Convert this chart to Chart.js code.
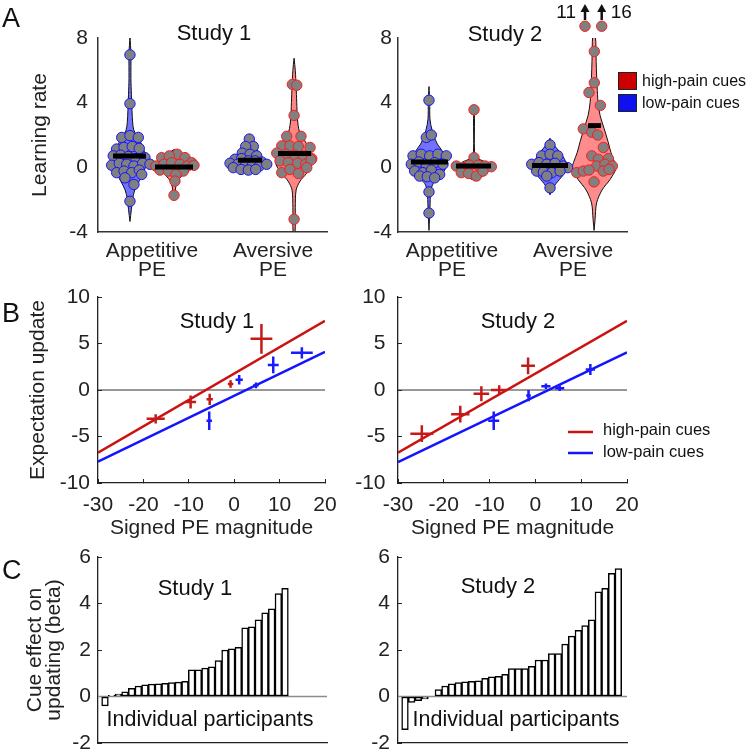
<!DOCTYPE html>
<html>
<head>
<meta charset="utf-8">
<script src="https://cdn.jsdelivr.net/npm/chart.js@4.4.1/dist/chart.umd.min.js"></script>
<style>
body { margin: 0; background: #fff; }
#fig { position: relative; width: 750px; height: 752px; overflow: hidden; font-family: 'Liberation Sans', Arial, sans-serif; }
#fig canvas { position: absolute; }
.tag { position: absolute; font-size: 27px; line-height: 27px; color: #111; }
</style>
</head>
<body>
<div id="fig">
  <canvas id="a1" width="375" height="280" style="left:0px;top:0px"></canvas>
  <canvas id="a2" width="400" height="280" style="left:350px;top:0px"></canvas>
  <canvas id="b1" width="375" height="300" style="left:0px;top:250px"></canvas>
  <canvas id="b2" width="400" height="300" style="left:350px;top:250px"></canvas>
  <canvas id="c1" width="375" height="290" style="left:0px;top:510px"></canvas>
  <canvas id="c2" width="400" height="290" style="left:350px;top:510px"></canvas>
  <div class="tag" style="left:2px;top:5px">A</div>
  <div class="tag" style="left:2px;top:300px">B</div>
  <div class="tag" style="left:2px;top:557px">C</div>
</div>
<script>
Chart.defaults.font.family = "'Liberation Sans', Arial, sans-serif";
Chart.defaults.font.size = 21;
Chart.defaults.color = '#222';

const RED = '#cc1111';
const BLUE = '#1414ff';

// ---- panel A: learning rates (x = swarm position in category units) ----
const catLabels = [['Appetitive', 'PE'], ['Aversive', 'PE']];

// study 1
const s1AppLowX = [0.818, 0.818, 0.750, 0.818, 0.887, 0.708, 0.769, 0.837, 0.895, 0.680, 0.741, 0.804, 0.868, 0.942, 0.667, 0.730, 0.791, 0.851, 0.923, 0.983, 0.708, 0.769, 0.832, 0.895, 0.915, 0.777, 0.851, 0.818];
const s1AppLowY = [6.96, 3.94, 1.85, 1.96, 1.85, 1.13, 1.23, 1.29, 1.17, 0.71, 0.75, 0.67, 0.54, 0.60, 0.13, 0.25, 0.19, 0.08, 0.25, 0.19, -0.33, -0.23, -0.33, -0.17, -0.44, -0.65, -1.06, -2.10];
const s1AppHighX = [1.209, 1.080, 1.143, 1.273, 1.328, 1.033, 1.099, 1.163, 1.231, 1.292, 1.347, 1.066, 1.135, 1.259, 1.198, 1.190, 1.182];
const s1AppHighY = [0.81, 0.60, 0.71, 0.60, 0.29, 0.08, 0.19, 0.29, 0.19, 0.08, 0.13, -0.17, -0.23, -0.23, -0.44, -0.85, -1.73];
const s1AverLowX = [1.804, 1.837, 1.774, 1.746, 1.810, 1.865, 1.686, 1.741, 1.796, 1.851, 1.907, 1.645, 1.708, 1.769, 1.829, 1.887, 1.948, 1.672, 1.736, 1.796, 1.857];
const s1AverLowY = [1.75, 1.29, 1.29, 0.88, 0.81, 0.71, 0.50, 0.54, 0.40, 0.40, 0.33, 0.25, 0.19, 0.08, 0.13, 0.08, 0.19, -0.02, -0.13, -0.17, -0.13];
const s1AverHighX = [2.160, 2.196, 2.174, 2.113, 2.231, 2.072, 2.140, 2.209, 2.306, 2.031, 2.105, 2.182, 2.250, 2.320, 2.058, 2.126, 2.204, 2.270, 2.314, 2.072, 2.140, 2.209, 2.279, 2.174];
const s1AverHighY = [5.13, 5.08, 3.21, 1.92, 1.92, 1.33, 1.33, 1.29, 1.23, 0.88, 0.81, 0.75, 0.71, 0.54, 0.40, 0.29, 0.25, 0.19, 0.46, -0.33, -0.13, -0.38, -0.02, -3.21];
const s1MeanX = [0.814, 1.182, 1.810, 2.178];
const s1MeanHalf = [0.136, 0.157, 0.100, 0.137];
const s1MeanY = [0.70, 0.02, 0.44, 0.85];

// study 2
const s2AppLowX = [0.810, 0.788, 0.829, 0.678, 0.746, 0.816, 0.884, 0.953, 0.664, 0.725, 0.788, 0.857, 0.926, 0.692, 0.760, 0.829, 0.898, 0.733, 0.796, 0.857, 0.810, 0.810];
const s2AppLowY = [4.15, 1.85, 2.00, 0.71, 0.81, 0.71, 0.81, 0.71, 0.19, 0.33, 0.08, 0.29, 0.19, -0.23, -0.33, -0.17, -0.44, -0.54, -0.58, -0.65, -1.52, -2.83];
const s2AppHighX = [1.182, 1.182, 1.036, 1.091, 1.146, 1.215, 1.275, 1.325, 1.077, 1.138, 1.201, 1.256];
const s2AppHighY = [3.56, 0.60, 0.08, -0.02, 0.13, 0.13, 0.08, 0.04, -0.33, -0.38, -0.54, -0.23];
const s2AverLowX = [1.810, 1.741, 1.810, 1.874, 1.659, 1.719, 1.783, 1.851, 1.920, 1.956, 1.700, 1.755, 1.824, 1.893, 1.783, 1.810];
const s2AverLowY = [1.38, 0.71, 0.81, 0.71, 0.19, 0.29, 0.19, 0.25, 0.08, -0.02, -0.23, -0.29, -0.33, -0.23, -0.54, -1.27];
const s2AverHighX = [2.176, 2.176, 2.132, 2.226, 2.085, 2.155, 2.204, 2.250, 2.155, 2.209, 2.292, 2.196, 2.264, 2.325, 2.031, 2.085, 2.132, 2.250, 2.298, 2.174];
const s2AverHighY = [7.17, 5.23, 4.63, 3.83, 2.38, 2.17, 2.00, 1.23, 0.71, 0.50, 0.54, 0.08, 0.19, 0.08, -0.33, -0.23, -0.17, -0.23, -0.13, -0.90];
// two values beyond the axis, drawn at the top edge with arrows
const s2OffX = [2.099, 2.237];
const s2OffVal = [11, 16];
const capY = 8.73;
const s2MeanX = [0.814, 1.178, 1.810, 2.178];
const s2MeanHalf = [0.153, 0.145, 0.149, 0.054];
const s2MeanY = [0.33, 0.08, 0.12, 2.58];

// violin outlines: levels (learning rate) and half widths (category units)
const vS1AppLowLv = [8.1, 7, 5.5, 4.5, 3.5, 2.8, 2.3, 1.8, 1.2, 0.5, -0.2, -0.8, -1.4, -2, -2.6, -3.35];
const vS1AppLowW = [0, 0.008, 0.008, 0.012, 0.017, 0.022, 0.032, 0.07, 0.11, 0.13, 0.12, 0.08, 0.04, 0.021, 0.012, 0];
const vS1AppHighLv = [1.1, 0.8, 0.4, 0, -0.4, -0.8, -1.2, -1.6, -1.9];
const vS1AppHighW = [0, 0.06, 0.12, 0.12, 0.08, 0.035, 0.015, 0.008, 0];
const vS1AverLowLv = [2.0, 1.7, 1.3, 0.9, 0.5, 0.1, -0.2, -0.4];
const vS1AverLowW = [0, 0.02, 0.05, 0.085, 0.12, 0.13, 0.09, 0];
const vS1AverHighLv = [6.75, 6, 5, 4, 3, 2.2, 1.5, 0.8, 0.2, -0.4, -0.85, -1.4, -2.5, -4];
const vS1AverHighW = [0, 0.01, 0.017, 0.022, 0.028, 0.045, 0.1, 0.14, 0.15, 0.1, 0.05, 0.017, 0.01, 0.008];
const vS2AppLowLv = [5, 4, 3, 2.3, 1.5, 1, 0.5, 0, -0.5, -1, -1.5, -2.5, -3.9];
const vS2AppLowW = [0, 0.006, 0.008, 0.025, 0.065, 0.11, 0.14, 0.14, 0.1, 0.035, 0.015, 0.008, 0];
const vS2AppHighLv = [3.56, 3, 1, 0.6, 0.3, 0, -0.4, -0.7, -0.8];
const vS2AppHighW = [0, 0.004, 0.004, 0.02, 0.1, 0.13, 0.1, 0.03, 0];
const vS2AverLowLv = [1.8, 1.4, 1, 0.5, 0, -0.5, -1, -1.4, -1.7];
const vS2AverLowW = [0, 0.03, 0.075, 0.12, 0.135, 0.105, 0.05, 0.015, 0];
const vS2AverHighLv = [8.1, 8, 7, 6.1, 5, 4, 3.2, 2.4, 1.6, 0.9, 0.3, -0.1, -0.75, -1.4, -2.2, -3.25, -3.9];
const vS2AverHighW = [0, 0.012, 0.016, 0.019, 0.025, 0.033, 0.05, 0.083, 0.115, 0.14, 0.17, 0.18, 0.132, 0.066, 0.021, 0.008, 0];

// ---- panel B: expectation update vs signed PE (mean +- error) ----
const fitX = [-30, 20];
const s1RedFit = [-6.75, 7.45];
const s1BlueFit = [-7.7, 4.1];
const s2RedFit = [-6.75, 7.45];
const s2BlueFit = [-7.75, 4.05];

const s1RedX = [-17.3, -9.6, -5.4, -0.8, 6.0];
const s1RedY = [-3.1, -1.3, -1.0, 0.65, 5.5];
const s1RedXe = [2.0, 1.2, 0.7, 0.6, 2.4];
const s1RedYe = [0.5, 0.7, 0.6, 0.4, 1.6];
const s1BlueX = [-5.5, 1.1, 4.8, 8.6, 14.9];
const s1BlueY = [-3.3, 1.1, 0.5, 2.7, 4.0];
const s1BlueXe = [0.6, 0.8, 0.6, 1.2, 2.4];
const s1BlueYe = [1.0, 0.5, 0.3, 0.9, 0.6];

const s2RedX = [-24.8, -16.4, -11.8, -7.9, -1.6];
const s2RedY = [-4.7, -2.6, -0.4, 0.0, 2.6];
const s2RedXe = [2.5, 2.0, 1.7, 1.8, 1.5];
const s2RedYe = [0.9, 0.9, 0.8, 0.5, 0.9];
const s2BlueX = [-9.1, -1.5, 2.3, 5.3, 12.0];
const s2BlueY = [-3.3, -0.6, 0.4, 0.2, 2.2];
const s2BlueXe = [1.2, 0.5, 1.0, 1.0, 1.0];
const s2BlueYe = [1.0, 0.6, 0.3, 0.3, 0.6];

// ---- panel C: cue effect per participant (sorted) ----
const s1Beta = [-0.4, 0.05, 0.1, 0.2, 0.35, 0.45, 0.5, 0.53, 0.55, 0.57, 0.6, 0.62, 0.65, 1.15, 1.15, 1.22, 1.28, 1.55, 2.0, 2.05, 2.12, 2.95, 3.0, 3.3, 3.6, 3.77, 4.43, 4.65];
const s2Beta = [-1.43, -0.25, -0.18, -0.1, 0, 0.3, 0.45, 0.55, 0.6, 0.63, 0.65, 0.67, 0.78, 0.85, 0.87, 0.95, 1.2, 1.2, 1.2, 1.3, 1.57, 1.57, 1.85, 1.85, 2.25, 2.6, 2.85, 3.05, 3.3, 4.5, 4.65, 5.3, 5.5];


function notes(items) {
    return {
        id: 'notes',
        afterDraw(chart) {
            const ctx = chart.ctx;
            ctx.save();
            for (const it of items) {
                if (it.text !== undefined) {
                    ctx.font = (it.size || 21) + "px 'Liberation Sans', Arial, sans-serif";
                    ctx.fillStyle = '#111';
                    ctx.textAlign = it.align || 'center';
                    ctx.textBaseline = 'middle';
                    ctx.fillText(it.text, it.x, it.y);
                } else if (it.box) {
                    ctx.fillStyle = it.box;
                    ctx.fillRect(it.x, it.y, it.w, it.h);
                    ctx.strokeStyle = '#222';
                    ctx.lineWidth = 1;
                    ctx.strokeRect(it.x + 0.5, it.y + 0.5, it.w - 1, it.h - 1);
                } else if (it.line) {
                    ctx.strokeStyle = it.line;
                    ctx.lineWidth = 2.5;
                    ctx.beginPath();
                    ctx.moveTo(it.x1, it.y);
                    ctx.lineTo(it.x2, it.y);
                    ctx.stroke();
                }
            }
            ctx.restore();
        }
    };
}

function swarm(xs, ys, edge, order) {
    return {
        type: 'scatter',
        data: xs.map((x, i) => ({x: x, y: ys[i]})),
        pointRadius: 5.2,
        pointBackgroundColor: '#808080',
        pointBorderColor: edge,
        pointBorderWidth: 1,
        order: order
    };
}

function violin(center, levels, widths, fill) {
    const right = levels.map((v, i) => ({x: center + widths[i], y: v}));
    const left = levels.map((v, i) => ({x: center - widths[i], y: v})).reverse();
    return {
        type: 'line',
        data: right.concat(left),
        fill: 'shape',
        backgroundColor: fill,
        borderColor: '#111',
        borderWidth: 1,
        pointRadius: 0,
        tension: 0.3,
        order: 5
    };
}

function meanBars(xs, halfs, ys) {
    return xs.map((x, i) => ({
        type: 'line',
        data: [{x: x - halfs[i], y: ys[i]}, {x: x + halfs[i], y: ys[i]}],
        borderColor: '#000',
        borderWidth: 5,
        pointRadius: 0,
        order: 0
    }));
}

function crosses(xs, ys, xe, ye, color) {
    const pts = [];
    xs.forEach((x, i) => {
        pts.push({x: x - xe[i], y: ys[i]}, {x: x + xe[i], y: ys[i]}, {x: x, y: null});
        pts.push({x: x, y: ys[i] - ye[i]}, {x: x, y: ys[i] + ye[i]}, {x: x, y: null});
    });
    return {type: 'line', data: pts, borderColor: color, borderWidth: 2.5, pointRadius: 0, tension: 0, order: 1};
}

function straight(xs, ys, color, width, order) {
    return {
        type: 'line',
        data: xs.map((x, i) => ({x: x, y: ys[i]})),
        borderColor: color,
        borderWidth: width,
        pointRadius: 0,
        order: order
    };
}

const baseOpts = {
    responsive: false,
    animation: false,
    devicePixelRatio: 1,
    events: [],
    plugins: {legend: {display: false}, tooltip: {enabled: false}}
};

function panelA(id, pad, yWidth, yPad, yTitle, datasets, extra) {
    return new Chart(id, {
        type: 'scatter',
        data: {datasets: datasets},
        options: Object.assign({}, baseOpts, {
            layout: {padding: pad},
            scales: {
                x: {
                    type: 'linear', min: 0.554, max: 2.446,
                    grid: {display: false, drawTicks: false},
                    border: {color: '#333', width: 1.5},
                    ticks: {padding: 9.5, font: {size: 21, lineHeight: 0.9}, callback: v => catLabels[Math.round(v) - 1]},
                    afterBuildTicks: s => { s.ticks = [{value: 1}, {value: 2}]; },
                    afterFit: s => { s.height = 48; }
                },
                y: {
                    min: -4, max: 8,
                    grid: {display: false, drawTicks: false},
                    border: {color: '#333', width: 1.5},
                    ticks: {stepSize: 4, padding: yPad},
                    title: {display: !!yTitle, text: yTitle, padding: 0},
                    afterFit: s => { s.width = yWidth; }
                }
            }
        }),
        plugins: extra
    });
}

panelA('a1', {left: 27.4, top: 38, right: 48, bottom: 0}, 70.6, 10, 'Learning rate', [
    ...meanBars(s1MeanX, s1MeanHalf, s1MeanY),
    swarm(s1AppHighX, s1AppHighY, '#ff1a1a', 1),
    swarm(s1AverHighX, s1AverHighY, '#ff1a1a', 1),
    swarm(s1AppLowX, s1AppLowY, BLUE, 2),
    swarm(s1AverLowX, s1AverLowY, BLUE, 2),
    violin(0.818, vS1AppLowLv, vS1AppLowW, '#7272ff'),
    violin(1.182, vS1AppHighLv, vS1AppHighW, '#ff8484'),
    violin(1.80, vS1AverLowLv, vS1AverLowW, '#7272ff'),
    violin(2.174, vS1AverHighLv, vS1AverHighW, '#ff8484')
], [notes([{text: 'Study 1', x: 214, y: 34, size: 22}])]);

// off-scale learning rates: marker at the top edge, arrow and the real value
const offArrows = {
    id: 'offArrows',
    afterDraw(chart) {
        const ctx = chart.ctx;
        const xs = chart.scales.x;
        const py = chart.scales.y.getPixelForValue(capY);
        ctx.save();
        ctx.font = "19px 'Liberation Sans', Arial, sans-serif";
        ctx.textBaseline = 'middle';
        s2OffX.forEach((v, i) => {
            const px = xs.getPixelForValue(v);
            ctx.beginPath();
            ctx.arc(px, py, 5.2, 0, Math.PI * 2);
            ctx.fillStyle = '#808080';
            ctx.fill();
            ctx.lineWidth = 1;
            ctx.strokeStyle = '#ff1a1a';
            ctx.stroke();

            ctx.fillStyle = '#111';
            ctx.strokeStyle = '#111';
            ctx.lineWidth = 2.5;
            ctx.beginPath();
            ctx.moveTo(px, 20);
            ctx.lineTo(px, 10);
            ctx.stroke();
            ctx.beginPath();
            ctx.moveTo(px, 4);
            ctx.lineTo(px - 4.5, 12);
            ctx.lineTo(px + 4.5, 12);
            ctx.closePath();
            ctx.fill();
            ctx.textAlign = i === 0 ? 'right' : 'left';
            ctx.fillText(String(s2OffVal[i]), i === 0 ? px - 9 : px + 9, 13);
        });
        ctx.restore();
    }
};

panelA('a2', {left: 0, top: 38, right: 123, bottom: 0}, 48, 6, '', [
    ...meanBars(s2MeanX, s2MeanHalf, s2MeanY),
    swarm(s2AppHighX, s2AppHighY, '#ff1a1a', 1),
    swarm(s2AverHighX, s2AverHighY, '#ff1a1a', 1),
    swarm(s2AppLowX, s2AppLowY, BLUE, 2),
    swarm(s2AverLowX, s2AverLowY, BLUE, 2),
    violin(0.81, vS2AppLowLv, vS2AppLowW, '#7272ff'),
    violin(1.182, vS2AppHighLv, vS2AppHighW, '#ff8484'),
    violin(1.81, vS2AverLowLv, vS2AverLowW, '#7272ff'),
    violin(2.174, vS2AverHighLv, vS2AverHighW, '#ff8c8c')
], [notes([
    {text: 'Study 2', x: 155, y: 34.5, size: 22},
    {box: '#cc0000', x: 268, y: 72, w: 19, h: 18},
    {box: '#1010ee', x: 268, y: 94, w: 19, h: 18},
    {text: 'high-pain cues', x: 292, y: 82, size: 16, align: 'left'},
    {text: 'low-pain cues', x: 292, y: 104, size: 16, align: 'left'}
]), offArrows]);

function panelB(id, pad, yWidth, yPad, yTitle, datasets, extra) {
    return new Chart(id, {
        type: 'scatter',
        data: {datasets: datasets},
        options: Object.assign({}, baseOpts, {
            layout: {padding: pad},
            scales: {
                x: {
                    type: 'linear', min: -30, max: 20,
                    grid: {display: true, drawOnChartArea: false, drawTicks: true, tickLength: -4, color: '#222'},
                    border: {color: '#222', width: 1.3},
                    ticks: {stepSize: 10, padding: 14},
                    title: {display: true, text: 'Signed PE magnitude', padding: 0},
                    afterFit: s => { s.height = 57.6; }
                },
                y: {
                    min: -10, max: 10,
                    grid: {display: true, drawOnChartArea: false, drawTicks: true, tickLength: -4, color: '#222'},
                    border: {color: '#222', width: 1.3},
                    ticks: {stepSize: 5, padding: yPad},
                    title: {display: !!yTitle, text: yTitle, padding: 0},
                    afterFit: s => { s.width = yWidth; }
                }
            }
        }),
        plugins: extra
    });
}

panelB('b1', {left: 25.4, top: 47, right: 50, bottom: 9.4}, 72.6, 12, 'Expectation update', [
    crosses(s1RedX, s1RedY, s1RedXe, s1RedYe, '#c41a1a'),
    crosses(s1BlueX, s1BlueY, s1BlueXe, s1BlueYe, '#1a1aff'),
    straight(fitX, s1RedFit, RED, 2.5, 2),
    straight(fitX, s1BlueFit, BLUE, 2.5, 2),
    straight(fitX, [0, 0], '#333', 1, 3)
], [notes([{text: 'Study 1', x: 217, y: 71.5, size: 22}])]);

panelB('b2', {left: 0, top: 47, right: 123, bottom: 9.4}, 48, 16.5, '', [
    crosses(s2RedX, s2RedY, s2RedXe, s2RedYe, '#c41a1a'),
    crosses(s2BlueX, s2BlueY, s2BlueXe, s2BlueYe, '#1a1aff'),
    straight(fitX, s2RedFit, RED, 2.5, 2),
    straight(fitX, s2BlueFit, BLUE, 2.5, 2),
    straight(fitX, [0, 0], '#333', 1, 3)
], [notes([
    {text: 'Study 2', x: 168, y: 71.5, size: 22},
    {line: RED, x1: 218, x2: 243, y: 182},
    {line: BLUE, x1: 218, x2: 243, y: 203},
    {text: 'high-pain cues', x: 253, y: 180, size: 16.5, align: 'left'},
    {text: 'low-pain cues', x: 253, y: 202, size: 16.5, align: 'left'}
])]);

function panelC(id, pad, yWidth, yPad, yTitle, betas, extra) {
    return new Chart(id, {
        type: 'bar',
        data: {
            datasets: [{
                data: betas.map((b, i) => ({x: i + 1, y: b})),
                backgroundColor: '#fff',
                borderColor: '#000',
                borderWidth: 1.5,
                borderSkipped: false,
                barPercentage: 1,
                categoryPercentage: 1,
                order: 0
            }, {
                type: 'line',
                data: [{x: -0.05, y: 0}, {x: 34.3, y: 0}],
                borderColor: '#8c8c8c',
                borderWidth: 1.5,
                pointRadius: 0,
                order: 1
            }]
        },
        options: Object.assign({}, baseOpts, {
            layout: {padding: pad},
            scales: {
                x: {
                    type: 'linear', min: -0.05, max: 34.3, offset: false,
                    grid: {display: false, drawTicks: false},
                    border: {color: '#222', width: 1.3},
                    ticks: {display: false},
                    afterBuildTicks: s => { s.ticks = [{value: 0}, {value: 10}, {value: 20}, {value: 30}]; },
                    afterFit: s => { s.height = 0; }
                },
                y: {
                    min: -2, max: 6,
                    grid: {display: true, drawOnChartArea: false, drawTicks: true, tickLength: -4, color: '#222'},
                    border: {color: '#222', width: 1.3},
                    ticks: {stepSize: 2, padding: yPad},
                    title: {display: !!yTitle, text: yTitle, padding: 0, font: {size: 21, lineHeight: 0.9}},
                    afterFit: s => { s.width = yWidth; }
                }
            }
        }),
        plugins: extra
    });
}

panelC('c1', {left: 25.5, top: 47, right: 48, bottom: 57}, 72.5, 11, ['Cue effect on', 'updating (beta)'], s1Beta,
    [notes([{text: 'Study 1', x: 195, y: 79, size: 22}, {text: 'Individual participants', x: 210, y: 210, size: 21.5}])]);

panelC('c2', {left: 0, top: 47, right: 123, bottom: 57}, 48, 12, '', s2Beta,
    [notes([{text: 'Study 2', x: 148, y: 76.5, size: 22}, {text: 'Individual participants', x: 166, y: 210, size: 21.5}])]);
</script>
</body>
</html>
